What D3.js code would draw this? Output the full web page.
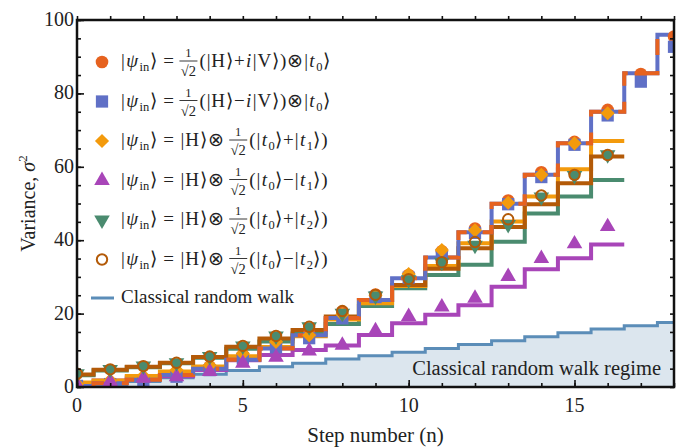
<!DOCTYPE html>
<html>
<head>
<meta charset="utf-8">
<script src="https://cdn.jsdelivr.net/npm/d3@7"></script>
<style>
  body { margin: 0; background: #fff; }
  text { font-family: "Liberation Serif", "Times New Roman", serif; fill: #222; }
</style>
</head>
<body>
<svg id="chart" width="677" height="447"></svg>
<script>
// step number for every data value is its index
var xTicks = [0, 5, 10, 15];
var yTicks = [0, 20, 40, 60, 80, 100];

// measured points
var orangePts = [0.5, 1.0, 2.0, 3.5, 5.5, 8.7, 11.7, 14.5, 20.5, 25.2, 30.5, 37.0, 43.2, 50.8, 58.5, 66.8, 75.5, 85.3, 95.5];
var bluePts   = [0.3, 0.8, 1.4, 2.8, 4.6, 7.8, 10.8, 13.3, 18.7, 24.5, 29.8, 36.0, 42.0, 49.8, 57.2, 66.0, 74.0, 83.2, 92.7];
var yellowPts = [0.8, 1.8, 3.0, 4.6, 5.9, 9.1, 12.3, 14.1, 19.8, 25.0, 30.8, 37.3, 42.7, 50.2, 57.8, 66.4, 74.6];
var purplePts = [0.6, 1.5, 2.4, 2.8, 4.2, 6.5, 8.1, 9.8, 11.4, 15.3, 19.2, 21.8, 24.2, 30.1, 35.0, 39.0, 43.7];
var greenPts  = [3.6, 4.8, 5.7, 6.6, 8.3, 11.2, 13.9, 16.4, 20.1, 24.8, 29.2, 34.0, 38.6, 44.3, 51.8, 57.6, 63.3];
var brownPts  = [3.6, 4.8, 5.7, 6.6, 8.3, 11.2, 13.9, 16.4, 20.7, 25.1, 29.4, 34.0, 39.5, 45.7, 52.2, 57.8, 63.2];

// simulated step curves
var symLine    = [0.3, 1.0, 2.0, 3.3, 5.0, 7.4, 10.5, 14.1, 18.8, 23.7, 29.6, 35.3, 42.2, 49.9, 57.8, 66.4, 75.0, 85.5, 96.0];
var yellowLine = [1.2, 1.8, 3.0, 4.2, 5.6, 8.4, 10.9, 13.8, 18.4, 22.8, 27.5, 33.0, 39.2, 45.1, 51.9, 59.3, 67.0];
var brownLine  = [3.4, 4.7, 5.5, 6.6, 8.2, 11.0, 13.2, 15.5, 19.2, 23.7, 27.8, 32.2, 37.8, 43.6, 49.8, 55.5, 62.8];
var greenLine  = [3.2, 4.5, 5.4, 6.5, 8.0, 10.4, 12.4, 14.6, 17.2, 22.1, 26.9, 30.5, 33.3, 39.6, 47.3, 51.9, 56.4];
var purpleLine = [0.5, 1.8, 2.6, 2.9, 4.6, 7.3, 8.7, 10.1, 11.3, 14.2, 17.4, 19.7, 22.3, 27.3, 32.1, 35.1, 38.8];
var classical  = [0, 0.6, 1.5, 2.5, 3.5, 4.5, 5.5, 6.5, 7.6, 8.5, 9.5, 10.5, 11.6, 12.6, 13.7, 14.8, 15.8, 16.7, 17.6];

var col = {
  orange: "#e6621f", blue: "#6070c6", yellow: "#f39a0c", purple: "#a845b8",
  green: "#4a8b6f", brown: "#b35a08", classical: "#5b8db8", regime: "#dce6ee"
};

var margin = {top: 20, right: 3, bottom: 60, left: 77},
    width = 677 - margin.left - margin.right,
    height = 447 - margin.top - margin.bottom;

var svg = d3.select("#chart");
var g = svg.append("g")
    .attr("transform", "translate(" + margin.left + "," + margin.top + ")");

var x = d3.scaleLinear().domain([0, 18]).range([0, width]);
var y = d3.scaleLinear().domain([0, 100]).range([height, 0]);

g.append("defs").append("clipPath").attr("id", "clip")
  .append("rect").attr("width", width).attr("height", height);

var plot = g.append("g").attr("clip-path", "url(#clip)");

// step points: each value holds from n-0.5 to n+0.5
function stepPts(arr) {
  var p = arr.map(function(v, i) { return [i - 0.5, v]; });
  p.push([arr.length - 0.5, arr[arr.length - 1]]);
  return p;
}
var stepLine = d3.line().curve(d3.curveStepAfter)
    .x(function(d) { return x(d[0]); })
    .y(function(d) { return y(d[1]); });
var stepArea = d3.area().curve(d3.curveStepAfter)
    .x(function(d) { return x(d[0]); })
    .y0(y(0))
    .y1(function(d) { return y(d[1]); });

// classical regime
plot.append("path").datum(stepPts(classical))
  .attr("d", stepArea).attr("fill", col.regime);
plot.append("path").datum(stepPts(classical))
  .attr("d", stepLine).attr("fill", "none")
  .attr("stroke", col.classical).attr("stroke-width", 3);

plot.append("text")
  .attr("x", width - 13).attr("y", height - 12)
  .attr("text-anchor", "end")
  .style("font-size", "20.5px")
  .text("Classical random walk regime");

function drawStep(arr, color, dash) {
  plot.append("path").datum(stepPts(arr))
    .attr("d", stepLine).attr("fill", "none")
    .attr("stroke", color).attr("stroke-width", 4)
    .attr("stroke-dasharray", dash || null);
}
drawStep(purpleLine, col.purple);
drawStep(greenLine, col.green);
drawStep(yellowLine, col.yellow);
drawStep(brownLine, col.brown);
drawStep(symLine, col.blue);
drawStep(symLine, col.orange, "16,16");

// markers
var sym = {
  circle: d3.symbol().type(d3.symbolCircle).size(125),
  square: d3.symbol().type(d3.symbolSquare).size(150),
  diamond: d3.symbol().type(d3.symbolSquare).size(100),
  triUp: d3.symbol().type(d3.symbolTriangle).size(105),
  open: d3.symbol().type(d3.symbolCircle).size(85)
};
var rot = {diamond: 45, triDown: 180};

function drawPts(arr, shape, color, opt) {
  opt = opt || {};
  plot.append("g").selectAll("path")
    .data(arr)
    .enter()
    .append("path")
      .attr("d", sym[shape])
      .attr("transform", function(d, i) {
        return "translate(" + x(i) + "," + y(d) + ")" + (opt.rot ? " rotate(" + opt.rot + ")" : "");
      })
      .attr("fill", opt.open ? "none" : color)
      .attr("stroke", opt.open ? color : "none")
      .attr("stroke-width", opt.open ? 2 : 0);
}
drawPts(orangePts, "circle", col.orange);
drawPts(bluePts, "square", col.blue);
drawPts(yellowPts, "diamond", col.yellow, {rot: 45});
drawPts(purplePts, "triUp", col.purple);
drawPts(greenPts, "triUp", col.green, {rot: 180});
drawPts(brownPts, "open", col.brown, {open: true});

// frame with inward ticks on all sides
function tickSide(axis, scale, vals, len) {
  return axis(scale).tickValues(vals).tickSizeInner(-len).tickSizeOuter(0).tickFormat("");
}
var xMinor = d3.range(0, 19), yMinor = d3.range(0, 101, 5);
g.append("g").attr("transform", "translate(0," + height + ")").call(tickSide(d3.axisBottom, x, xMinor, 4));
g.append("g").attr("transform", "translate(0," + height + ")").call(tickSide(d3.axisBottom, x, xTicks, 7));
g.append("g").call(tickSide(d3.axisTop, x, xMinor, -4));
g.append("g").call(tickSide(d3.axisLeft, y, yMinor, 4));
g.append("g").call(tickSide(d3.axisLeft, y, yTicks, 7));
g.append("g").attr("transform", "translate(" + width + ",0)").call(tickSide(d3.axisRight, y, yMinor, 4));
g.selectAll(".domain").remove();
g.selectAll(".tick line").attr("stroke", "#111").attr("stroke-width", 1.6);
g.selectAll(".tick text").remove();

g.append("rect").attr("width", width).attr("height", height)
  .attr("fill", "none").attr("stroke", "#111").attr("stroke-width", 2.5);

// tick labels
g.selectAll(".xl").data(xTicks).enter().append("text")
  .attr("x", function(d) { return x(d); }).attr("y", height + 25)
  .attr("text-anchor", "middle").style("font-size", "20px")
  .text(function(d) { return d; });
g.selectAll(".yl").data(yTicks).enter().append("text")
  .attr("x", -3).attr("y", function(d) { return y(d) + 6; })
  .attr("text-anchor", "end").style("font-size", "20px")
  .text(function(d) { return d; });

// axis titles
svg.append("text")
  .attr("x", margin.left + width / 2).attr("y", 442)
  .attr("text-anchor", "middle").style("font-size", "21px")
  .text("Step number (n)");
var yt = svg.append("text")
  .attr("transform", "translate(35," + (margin.top + height / 2) + ") rotate(-90)")
  .attr("text-anchor", "middle").style("font-size", "20px");
yt.append("tspan").text("Variance, ");
yt.append("tspan").style("font-style", "italic").text("σ");
yt.append("tspan").attr("dy", -8).style("font-size", "13px").text("2");

// legend
var legColors = [col.orange, col.blue, col.yellow, col.purple, col.green, col.brown];
var legShapes = ["circle", "square", "diamond", "triUp", "triDown", "open"];
// runs: [text, style]  style: "" normal, "i" italic, "s" subscript, "f" fraction 1/sqrt2
var legLabels = [
  [["|",""],["ψ","i"],["in","s"],["⟩ = ",""],["","f"],["(|H⟩+",""],["i","i"],["|V⟩)⊗|",""],["t","i"],["0","s"],["⟩",""]],
  [["|",""],["ψ","i"],["in","s"],["⟩ = ",""],["","f"],["(|H⟩−",""],["i","i"],["|V⟩)⊗|",""],["t","i"],["0","s"],["⟩",""]],
  [["|",""],["ψ","i"],["in","s"],["⟩ = |H⟩⊗",""],["","f"],["(|",""],["t","i"],["0","s"],["⟩+|",""],["t","i"],["1","s"],["⟩)",""]],
  [["|",""],["ψ","i"],["in","s"],["⟩ = |H⟩⊗",""],["","f"],["(|",""],["t","i"],["0","s"],["⟩−|",""],["t","i"],["1","s"],["⟩)",""]],
  [["|",""],["ψ","i"],["in","s"],["⟩ = |H⟩⊗",""],["","f"],["(|",""],["t","i"],["0","s"],["⟩+|",""],["t","i"],["2","s"],["⟩)",""]],
  [["|",""],["ψ","i"],["in","s"],["⟩ = |H⟩⊗",""],["","f"],["(|",""],["t","i"],["0","s"],["⟩−|",""],["t","i"],["2","s"],["⟩)",""]]
];
var legendX = 102, textX = 121, rowY0 = 67, rowGap = 39.5;

legLabels.forEach(function(runs, k) {
  var by = rowY0 + k * rowGap;
  var my = by - 5;
  var shape = legShapes[k];
  svg.append("path")
    .attr("d", sym[shape === "triDown" ? "triUp" : shape])
    .attr("transform", "translate(" + legendX + "," + my + ")" + (rot[shape] ? " rotate(" + rot[shape] + ")" : ""))
    .attr("fill", shape === "open" ? "none" : legColors[k])
    .attr("stroke", shape === "open" ? legColors[k] : "none")
    .attr("stroke-width", shape === "open" ? 2 : 0);

  var cx = textX;
  runs.forEach(function(r) {
    if (r[1] === "f") {
      cx += 3;
      var fg = svg.append("g");
      fg.append("text").attr("x", cx + 10).attr("y", by - 10)
        .attr("text-anchor", "middle").style("font-size", "12.5px").text("1");
      fg.append("text").attr("x", cx + 10).attr("y", by + 9)
        .attr("text-anchor", "middle").style("font-size", "14.5px").text("√2");
      fg.append("line").attr("x1", cx + 1).attr("x2", cx + 19)
        .attr("y1", by - 6).attr("y2", by - 6)
        .attr("stroke", "#222").attr("stroke-width", 0.9);
      cx += 21;
      return;
    }
    var t = svg.append("text").attr("x", cx)
      .attr("y", r[1] === "s" ? by + 4 : by)
      .style("font-size", r[1] === "s" ? "12.5px" : "19px")
      .style("letter-spacing", r[1] === "" ? "0.9px" : "0px")
      .style("font-style", r[1] === "i" ? "italic" : "normal")
      .text(r[0]);
    cx += t.node().getComputedTextLength() + (r[1] === "i" ? 1.5 : 0.5);
  });
});

// classical legend row
var cy = rowY0 + 6 * rowGap - 5;
svg.append("line")
  .attr("x1", legendX - 11).attr("x2", legendX + 12)
  .attr("y1", cy - 1).attr("y2", cy - 1)
  .attr("stroke", col.classical).attr("stroke-width", 3);
svg.append("text").attr("x", textX).attr("y", cy + 4)
  .style("font-size", "19px").text("Classical random walk");
</script>
</body>
</html>
